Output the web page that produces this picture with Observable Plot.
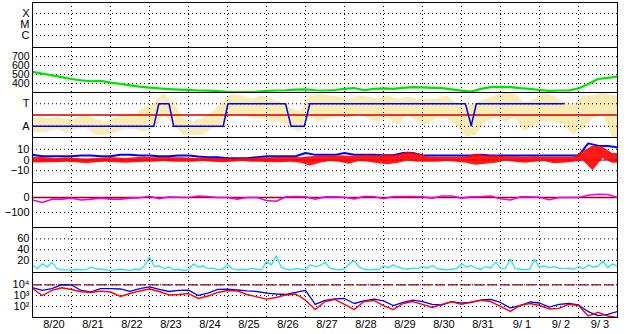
<!DOCTYPE html>
<html><head><meta charset="utf-8">
<script src="https://cdn.jsdelivr.net/npm/d3@7"></script>
<script src="https://cdn.jsdelivr.net/npm/@observablehq/plot@0.6"></script>
<style>
body{margin:0;background:#fff;}
#chart{position:relative;width:628px;height:334px;overflow:hidden;background:#fff;}
#chart svg{position:absolute;left:0;overflow:visible;}
</style></head><body><div id="chart"></div>
<script>
// ---- data ----
const dayLabels = ["8/20","8/21","8/22","8/23","8/24","8/25","8/26","8/27","8/28","8/29","8/30","8/31","9/ 1","9/ 2","9/ 3"];
const STEP = 0.25; // days between samples

// Panel 1: X-ray class levels (no data shown)
const xrayLevels = [1e-4, 1e-5, 1e-6];
const xrayLabels = ["X", "M", "C"];

// Panel 2: solar wind speed (km/s), every 6 h
const speed = [530,510,490,470,450,435,425,430,410,395,
  380,365,355,345,338,333,330,322,320,315,
  308,305,305,308,318,322,325,332,335,325,
  322,328,340,350,325,340,345,340,352,360,
  358,352,348,335,320,310,340,360,362,360,
  348,340,328,318,322,322,345,395,450,462,
  478];
const speedTicks = [700, 600, 500, 400];

// Panel 3: A / T state (A = 0, T = 2), blue trace and yellow scatter band
const stateTicks = [0, 2];
const stateLabels = ["A", "T"];
const stateThreshold = 1;
const stateTimes  = [0, 3.11, 3.24, 3.50, 3.62, 4.89, 5.01, 6.49, 6.63, 6.97, 7.11, 11.10, 11.25, 11.38, 13.61];
const stateValues = [0, 0,    2,    2,    0,    0,    2,    2,    0,    0,    2,    2,     0.05,  2,     2];
const yellowHi = [0.8,0.7,0.8,0.6,0.7,1.1,0.6,0.4,0.8,1.1,
  1.0,1.6,2.1,2.9,2.1,0.7,0.4,0.7,1.3,2.1,
  2.9,2.7,2.4,2.7,2.4,2.1,1.6,1.3,2.7,2.9,
  2.7,2.6,2.4,2.7,2.6,2.4,2.7,2.4,2.6,2.4,
  2.4,2.4,2.7,2.1,1.6,2.1,2.4,2.7,3.0,2.9,
  2.1,2.4,2.9,2.7,2.1,1.9,2.7,2.7,3.0,2.7];
const yellowLo = [-0.6,-0.5,-0.3,-0.6,-0.3,-0.2,-0.8,-0.8,-0.6,-0.3,
  -0.3,-0.5,-0.2,1.0,0.1,-0.8,-0.8,-0.8,-0.2,0.1,
  1.0,1.0,0.7,0.7,0.4,0.4,-0.2,-0.5,0.7,0.4,
  0.7,0.8,0.7,1.1,0.6,0.4,0.7,0.1,1.0,0.4,
  0.1,0.7,0.7,0.1,-1.0,-0.8,0.4,0.7,0.4,0.7,
  -0.5,0.1,0.4,0.4,0.1,-0.8,-0.2,0.7,1.0,-1.0];

// Panel 4: IMF Bt (blue) and Bz range (red), nT
const imfTicks = [10, 0, -10];
const bt = [4.8,3.5,3.5,3.5,3.5,4.1,4.1,3.5,3.5,4.8,
  4.8,4.1,4.1,3.5,3.5,4.1,4.1,3.2,2.6,2.6,
  1.7,1.7,1.7,2.6,3.5,3.5,3.5,3.5,6.6,4.8,
  4.8,4.8,6.6,5,5,5,4.5,4.5,6.5,6.5,
  4.5,4.1,4.1,4.1,4.1,4.1,4.8,4.1,4.1,4.1,
  4.1,4.1,4.1,4.1,4.1,4.1,4.1,15.5,13.4,13,
  11.8];
const bzLo = [-2.9,-2.5,-2.5,-2,-2.5,-3.5,-2.5,-2,-2.5,-3,
  -2.5,-2,-2,-1.5,-2,-2,-2,-1.5,-2,-2.5,
  -2,-1.5,-2,-2,-2.5,-2.5,-2,-3,-5.5,-3,
  -1.5,-2,-4,-1.5,-2,-3.5,-4.5,-3,-1,-2,
  -2,-2,-1.5,-2,-3,-5,-4,-3,-1,-2,
  -3,-2,-1.5,-3.5,-3,-2,-1,-10,1.5,-3];
const bzHi = [2.6,2,1.5,2,1.5,1,1.5,2,2,1.5,
  2,2.5,2,2.5,2,2,1.5,2,1.5,1.5,
  1,1.5,1.5,2,2,2.5,2.5,2,3,3.5,
  4,4,3.5,4,4.5,4,5,4.5,7.5,6,
  3,2.5,2.5,2.5,3,5.5,4,4,3,3,
  2.5,3,2.5,2.5,2.5,2.5,8,13,12,6];

// Panel 5: magenta index
const magTicks = [0, -100];
const magenta = [-17,-33,-11,-11,-4,-17,-11,-4,-11,-11,
  -4,-2,8,-8,4,2,0,10,6,0,
  0,-11,0,0,-20,-25,5,7,5,-12,
  4,4,2,-9,7,7,-8,7,7,7,
  4,-4,10,10,-4,4,6,10,-8,-17,
  4,4,2,-15,0,0,0,15,22,20,
  0];

// Panel 6: cyan series, every 3 h
const cyanTicks = [60, 40, 20];
const cyan = [12,5,14,8,17,5,3,3,2,4,
  3,3,8,5,4,3,2,3,4,3,
  2,4,3,11,26,9,10,5,8,3,
  4,2,3,14,8,10,5,6,3,4,
  13,5,3,4,3,6,4,3,18,12,
  29,8,4,3,5,4,3,12,9,11,
  17,6,4,3,5,14,20,8,4,3,
  4,3,10,7,12,8,5,4,6,5,
  9,6,11,5,4,3,4,5,14,8,
  11,6,4,9,6,17,6,5,23,5,
  4,3,4,22,8,10,7,9,6,5,
  6,4,9,5,12,8,10,19,7,14,
  9];

// Panel 7: electron flux (log), every 6 h
const fluxTicks = [1e4, 1e3, 1e2];
const fluxLabels = ["10\u2074", "10\u00B3", "10\u00B2"];
const fluxThreshold = 1e4;
const fluxBlue = [5600,3000,4500,10500,9600,3000,2250,4500,4500,4100,
  2400,4500,6500,3700,2400,3000,3200,1030,1730,3700,
  3900,3300,2700,2400,1730,1400,1260,1950,3000,152,
  355,490,540,185,320,465,320,120,230,375,
  280,152,135,270,205,230,390,435,230,71,
  120,255,205,87,152,185,135,32,14,18,
  34];
const fluxRed = [4500,1020,3000,5300,3700,2250,1950,2600,2150,830,
  1550,2700,4100,2400,1150,1260,1550,540,910,1950,
  3000,2700,1260,770,465,660,1150,1400,375,51,
  280,435,152,51,280,355,120,51,185,280,
  152,79,152,270,152,255,375,280,98,34,
  120,185,120,58,65,152,120,13,28,13,
  9.3];

// ---- helpers ----
const series = (vals, step) => vals.map((v, i) => ({t: i * step, v}));
const band = (lo, hi, step) => {
  const rows = lo.map((l, i) => ({t: (i + 0.5) * step, lo: l, hi: hi[i]}));
  return [{t: 0, lo: lo[0], hi: hi[0]}, ...rows, {t: lo.length * step, lo: lo[lo.length - 1], hi: hi[hi.length - 1]}];
};
const container = document.getElementById("chart");
const dayGrid = d3.range(1, dayLabels.length);
const DOT = {stroke: "black", strokeWidth: 1, strokeDasharray: "1,3"};
const PANEL_H = 45, TOP0 = 2, XAXIS_H = 17;

function addPanel(k, yOpts, marks, last = false, fontSize = "11px") {
  const svg = Plot.plot({
    width: 628,
    height: PANEL_H + (last ? XAXIS_H : 0),
    marginLeft: 32, marginRight: 11, marginTop: 0, marginBottom: last ? XAXIS_H : 0,
    style: {fontFamily: "'Liberation Sans', Arial, sans-serif", fontSize, color: "black", background: "white", overflow: "visible"},
    x: {
      domain: [0, dayLabels.length],
      axis: last ? "bottom" : null,
      ticks: dayLabels.map((_, i) => i + 0.55),
      tickFormat: d => dayLabels[Math.floor(d)],
      tickSize: 0, tickPadding: 3, label: null
    },
    y: {tickSize: 0, tickPadding: 3, label: null, ...yOpts},
    marks: [
      ...(marks.under || []),
      Plot.ruleX(dayGrid, DOT),
      Plot.ruleY(yOpts.ticks, DOT),
      ...marks.over,
      Plot.frame({stroke: "black", strokeWidth: 1})
    ]
  });
  svg.style.position = "absolute";
  svg.style.top = (TOP0 + k * PANEL_H) + "px";
  container.append(svg);
}

// Panel 1: X-ray
addPanel(0, {type: "log", domain: [10 ** -7.09, 1e-3], ticks: xrayLevels,
  tickFormat: d => xrayLabels[xrayLevels.indexOf(d)]}, {over: []});

// Panel 2: speed
addPanel(1, {domain: [300, 800], ticks: speedTicks}, {over: [
  Plot.line(series(speed, STEP), {x: "t", y: "v", stroke: "#00e400", strokeWidth: 2.2, clip: true})
]}, false, "10.5px");

// Panel 3: A/T
addPanel(2, {domain: [-1, 3], ticks: stateTicks, tickFormat: d => stateLabels[stateTicks.indexOf(d)]}, {
  under: [Plot.areaY(band(yellowLo, yellowHi, STEP), {x: "t", y1: "lo", y2: "hi", fill: "#f6e08c", fillOpacity: 0.65, clip: true})],
  over: [
    Plot.ruleY([stateThreshold], {stroke: "#cc0000", strokeWidth: 1.3}),
    Plot.line(stateTimes.map((t, i) => ({t, v: stateValues[i]})), {x: "t", y: "v", stroke: "#0000ff", strokeWidth: 1.5})
  ]});

// Panel 4: IMF
addPanel(3, {domain: [-21, 21], ticks: imfTicks}, {over: [
  Plot.ruleY([0], {stroke: "#a00000", strokeWidth: 1}),
  Plot.line(series(bt, STEP), {x: "t", y: "v", stroke: "#0000ff", strokeWidth: 2, clip: true}),
  Plot.areaY(band(bzLo, bzHi, STEP), {x: "t", y1: "lo", y2: "hi", fill: "#ff0000", fillOpacity: 0.9, clip: true})
]});

// Panel 5: magenta
addPanel(4, {domain: [-200, 100], ticks: magTicks}, {over: [
  Plot.ruleY([0], {stroke: "#a00000", strokeWidth: 1.3}),
  Plot.line(series(magenta, STEP), {x: "t", y: "v", stroke: "#ee00ee", strokeWidth: 1.6, clip: true})
]});

// Panel 6: cyan
addPanel(5, {domain: [-2, 81], ticks: cyanTicks}, {over: [
  Plot.line(series(cyan, STEP / 2), {x: "t", y: "v", stroke: "#22e6e6", strokeWidth: 1.3, clip: true})
]});

// Panel 7: electron flux
addPanel(6, {type: "log", domain: [10 ** 0.97, 10 ** 5.14], ticks: fluxTicks,
  tickFormat: d => fluxLabels[fluxTicks.indexOf(d)]}, {over: [
  Plot.ruleY([fluxThreshold], {stroke: "#a00000", strokeWidth: 1.3, strokeDasharray: "10,3"}),
  Plot.line(series(fluxBlue, STEP), {x: "t", y: "v", stroke: "#0000ff", strokeWidth: 1.3, clip: true}),
  Plot.line(series(fluxRed, STEP), {x: "t", y: "v", stroke: "#ff0000", strokeWidth: 1.4, clip: true})
]}, true);
</script></body></html>
